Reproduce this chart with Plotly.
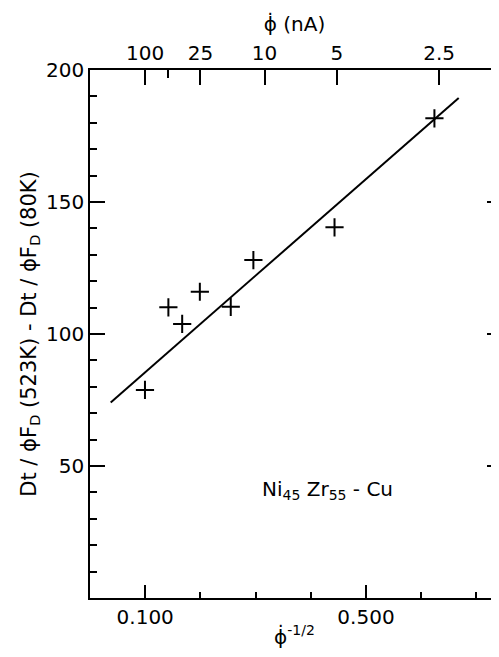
import plotly.graph_objects as go

# Data
phi_inv_sqrt = [0.0996, 0.142, 0.167, 0.199, 0.255, 0.296, 0.443, 0.624]
delta_dt = [78.8, 110.1, 103.8, 116.0, 110.3, 128.0, 140.4, 181.7]

fit_x = [0.0375, 0.668]
fit_y = [74.1, 189.4]

# top axis: beam current (nA), placed at phi^-1/2
top_current = [100, 50, 25, 10, 5, 2.5]
top_labels = ["100", "", "25", "10", "5", "2.5"]
top_major = [100, 25, 10, 5, 2.5]
top_minor = [50]

x_range = [0, 0.741]
y_range = [0, 200]

FONT = "DejaVu Sans"

fig = go.Figure()
fig.add_trace(go.Scatter(
    x=fit_x, y=fit_y, mode="lines",
    line=dict(color="black", width=2), showlegend=False, hoverinfo="skip"))
fig.add_trace(go.Scatter(
    x=phi_inv_sqrt, y=delta_dt, mode="markers",
    marker=dict(symbol="cross-thin", size=13, line=dict(color="black", width=2)),
    showlegend=False))
# invisible trace to host the top / right axes
fig.add_trace(go.Scatter(
    x=phi_inv_sqrt, y=delta_dt, mode="markers", xaxis="x2", yaxis="y2",
    marker=dict(opacity=0), showlegend=False, hoverinfo="skip"))

fig.add_annotation(
    x=0.43, y=41, xref="x", yref="y", showarrow=False,
    text="Ni<sub>45</sub> Zr<sub>55</sub> - Cu",
    font=dict(family=FONT, size=20, color="black"))

# the page has an 8px body margin; size the figure to fill the window
fig.update_layout(
    width=491, height=649,
    margin=dict(l=82, r=0, t=62, b=59),
    paper_bgcolor="white", plot_bgcolor="white",
    font=dict(family=FONT, size=20, color="black"),
    xaxis=dict(
        range=x_range, showgrid=False, zeroline=False,
        showline=True, linecolor="black", linewidth=1.5,
        ticks="inside", ticklen=13, tickwidth=1.5, tickcolor="black",
        tickmode="array", tickvals=[0.1, 0.5], ticktext=["0.100", "0.500"],
        minor=dict(tickmode="array", tickvals=[0.2, 0.3, 0.4, 0.6, 0.7],
                   ticks="inside", ticklen=6, tickwidth=1.5, tickcolor="black"),
        title=dict(text="ϕ̇<sup>-1/2</sup>", standoff=2,
                   font=dict(family=FONT, size=20)),
    ),
    xaxis2=dict(
        range=x_range, overlaying="x", side="top", anchor="y",
        showgrid=False, zeroline=False,
        showline=True, linecolor="black", linewidth=1.5,
        ticks="inside", ticklen=15, tickwidth=1.5, tickcolor="black",
        tickmode="array",
        tickvals=[c ** -0.5 for c in top_major],
        ticktext=[l for c, l in zip(top_current, top_labels) if c in top_major],
        minor=dict(tickmode="array", tickvals=[c ** -0.5 for c in top_minor],
                   ticks="inside", ticklen=8, tickwidth=1.5, tickcolor="black"),
        title=dict(text="ϕ̇ (nA)", standoff=4, font=dict(family=FONT, size=20)),
    ),
    yaxis=dict(
        range=y_range, showgrid=False, zeroline=False,
        showline=True, linecolor="black", linewidth=1.5,
        ticks="inside", ticklen=15, tickwidth=1.5, tickcolor="black",
        tickmode="array", tickvals=[50, 100, 150, 200],
        minor=dict(dtick=10, tick0=0, ticks="inside", ticklen=7,
                   tickwidth=1.5, tickcolor="black"),
        title=dict(text="Dt / ϕF<sub>D</sub> (523K) - Dt / ϕF<sub>D</sub> (80K)",
                   standoff=4, font=dict(family=FONT, size=21)),
    ),
    yaxis2=dict(
        range=y_range, overlaying="y", side="right", anchor="x",
        showgrid=False, zeroline=False, showline=False,
        ticks="inside", ticklen=12, tickwidth=1.5, tickcolor="black",
        tickmode="array", tickvals=[50, 100, 150], showticklabels=False,
        minor=dict(dtick=10, tick0=0, ticks="inside", ticklen=6,
                   tickwidth=1.5, tickcolor="black"),
    ),
)

fig.write_html("out.html")
